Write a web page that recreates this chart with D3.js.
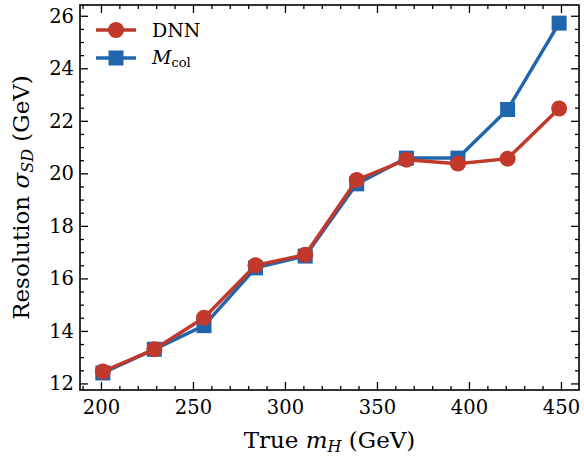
<!DOCTYPE html>
<html>
<head>
<meta charset="utf-8">
<script src="https://cdn.jsdelivr.net/npm/d3@7"></script>
<style>
  body { margin: 0; background: #fff; }
  text { font-family: "DejaVu Serif", serif; fill: #000; }
</style>
</head>
<body>
<svg id="svg" width="584" height="460"></svg>
<script>
// data
let massPoints = [201, 229, 256, 284, 311, 339, 366, 394, 421, 449];
let dnnRes = [12.45, 13.3, 14.5, 16.5, 16.9, 19.75, 20.52, 20.37, 20.56, 22.47];
let mcolRes = [12.4, 13.3, 14.2, 16.4, 16.85, 19.6, 20.58, 20.58, 22.43, 25.72];
let xTicks = [200, 250, 300, 350, 400, 450];
let yTicks = [12, 14, 16, 18, 20, 22, 24, 26];

let red = "#c0392b";
let blue = "#2166ac";

let svg = d3.select("#svg");
let pLeft = 80, pRight = 579, pTop = 5, pBottom = 390;

let x = d3.scaleLinear().domain([188.6, 459.8]).range([pLeft, pRight]);
let y = d3.scaleLinear().domain([11.75, 26.41]).range([pBottom, pTop]);

let xMinor = d3.range(190, 460, 10).filter((v) => v % 50 !== 0);
let yMinor = d3.range(12, 26.5, 0.5).filter((v) => v % 2 !== 0);

// ticks on all four sides, pointing inward
let gB = svg.append("g").attr("transform", `translate(0,${pBottom})`)
  .call(d3.axisBottom(x).tickValues(xTicks).tickSize(-8).tickPadding(10).tickFormat(d3.format("d")));
gB.selectAll("text").style("font-size", "19.5px");
svg.append("g").attr("transform", `translate(0,${pBottom})`)
  .call(d3.axisBottom(x).tickValues(xMinor).tickSize(-4).tickFormat(""));

svg.append("g").attr("transform", `translate(0,${pTop})`)
  .call(d3.axisTop(x).tickValues(xTicks).tickSize(-8).tickFormat(""));
svg.append("g").attr("transform", `translate(0,${pTop})`)
  .call(d3.axisTop(x).tickValues(xMinor).tickSize(-4).tickFormat(""));

let gL = svg.append("g").attr("transform", `translate(${pLeft},0)`)
  .call(d3.axisLeft(y).tickValues(yTicks).tickSize(-8).tickPadding(6).tickFormat(d3.format("d")));
gL.selectAll("text").style("font-size", "19.5px");
svg.append("g").attr("transform", `translate(${pLeft},0)`)
  .call(d3.axisLeft(y).tickValues(yMinor).tickSize(-4).tickFormat(""));

svg.append("g").attr("transform", `translate(${pRight},0)`)
  .call(d3.axisRight(y).tickValues(yTicks).tickSize(-8).tickFormat(""));
svg.append("g").attr("transform", `translate(${pRight},0)`)
  .call(d3.axisRight(y).tickValues(yMinor).tickSize(-4).tickFormat(""));

svg.selectAll(".domain").remove();
svg.selectAll(".tick line").attr("stroke", "#000").attr("stroke-width", 1.3);
svg.selectAll(".tick text").attr("fill", "#000").style("font-family", "DejaVu Serif");

svg.append("rect")
  .attr("x", pLeft).attr("y", pTop)
  .attr("width", pRight - pLeft).attr("height", pBottom - pTop)
  .attr("fill", "none").attr("stroke", "#000").attr("stroke-width", 1.6);

// lines
let line = d3.line().x((d) => x(d[0])).y((d) => y(d[1]));

let mcolData = massPoints.map((m, i) => [m, mcolRes[i]]);
let dnnData = massPoints.map((m, i) => [m, dnnRes[i]]);

svg.append("path").datum(mcolData).attr("d", line)
  .attr("fill", "none").attr("stroke", blue).attr("stroke-width", 3.5);
svg.selectAll(".sq").data(mcolData).enter().append("rect")
  .attr("x", (d) => x(d[0]) - 7.5).attr("y", (d) => y(d[1]) - 7.5)
  .attr("width", 15).attr("height", 15).attr("fill", blue);

svg.append("path").datum(dnnData).attr("d", line)
  .attr("fill", "none").attr("stroke", red).attr("stroke-width", 3.5);
svg.selectAll(".dot").data(dnnData).enter().append("circle")
  .attr("cx", (d) => x(d[0])).attr("cy", (d) => y(d[1]))
  .attr("r", 8).attr("fill", red);

// legend
let leg = svg.append("g");
leg.append("line").attr("x1", 96).attr("x2", 136).attr("y1", 30).attr("y2", 30)
  .attr("stroke", red).attr("stroke-width", 3.5);
leg.append("circle").attr("cx", 116).attr("cy", 30).attr("r", 8).attr("fill", red);
leg.append("text").attr("x", 152).attr("y", 37).style("font-size", "19px").text("DNN");
leg.append("line").attr("x1", 96).attr("x2", 136).attr("y1", 58).attr("y2", 58)
  .attr("stroke", blue).attr("stroke-width", 3.5);
leg.append("rect").attr("x", 108.5).attr("y", 50.5).attr("width", 15).attr("height", 15).attr("fill", blue);
let mt = leg.append("text").attr("x", 152).attr("y", 64).style("font-size", "19px");
mt.append("tspan").style("font-style", "italic").text("M");
mt.append("tspan").attr("dy", 3).style("font-size", "13px").text("col");

// axis titles
let xl = svg.append("text").attr("x", (pLeft + pRight) / 2).attr("y", 448)
  .attr("text-anchor", "middle").style("font-size", "23px");
xl.append("tspan").text("True ");
xl.append("tspan").style("font-style", "italic").text("m");
xl.append("tspan").attr("dy", 4).style("font-size", "16px").style("font-style", "italic").text("H");
xl.append("tspan").attr("dy", -4).text(" (GeV)");

let yl = svg.append("text")
  .attr("transform", `translate(29,${(pTop + pBottom) / 2}) rotate(-90)`)
  .attr("text-anchor", "middle").style("font-size", "23px");
yl.append("tspan").text("Resolution ");
yl.append("tspan").style("font-style", "italic").text("σ");
yl.append("tspan").attr("dy", 4).style("font-size", "16px").style("font-style", "italic").text("SD");
yl.append("tspan").attr("dy", -4).text(" (GeV)");
</script>
</body>
</html>
